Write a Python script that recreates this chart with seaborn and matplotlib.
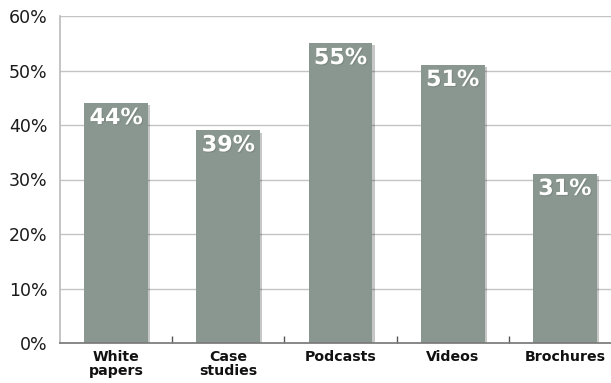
import matplotlib
matplotlib.use("Agg")
import matplotlib.pyplot as plt
import matplotlib.patheffects as pe
import seaborn as sns
import pandas as pd

categories = ["White\npapers", "Case\nstudies", "Podcasts", "Videos", "Brochures"]
values = [44, 39, 55, 51, 31]
y_ticks = [0, 10, 20, 30, 40, 50, 60]
y_tick_labels = ["0%", "10%", "20%", "30%", "40%", "50%", "60%"]

sns.set_theme(style="white")
plt.rcParams["font.family"] = ["DejaVu Sans"]

df = pd.DataFrame({"category": categories, "value": values})

fig = plt.figure(figsize=(6.11, 3.83), dpi=100)
ax = fig.add_axes([60 / 611, 40 / 383, 561 / 611, 327 / 383])

sns.barplot(data=df, x="category", y="value", color="#899790", saturation=1,
            width=0.57, linewidth=0, ax=ax, zorder=3)

for patch in ax.patches:
    patch.set_path_effects([
        pe.SimplePatchShadow(offset=(1.5, -1.5), shadow_rgbFace="#000000", alpha=0.22),
        pe.Normal(),
    ])

for i, v in enumerate(values):
    ax.annotate(f"{v}%", xy=(i, v), xytext=(0, -3.5), textcoords="offset points",
                ha="center", va="top", color="white", fontsize=16, fontweight="bold",
                zorder=5,
                path_effects=[pe.withSimplePatchShadow(offset=(0.8, -0.8), alpha=0.2)])

ax.set_xlim(-0.5, 4.5)
ax.set_ylim(0, 60)
ax.set_yticks(y_ticks)
ax.set_yticklabels(y_tick_labels, fontsize=12.5, color="#1a1a1a")
ax.yaxis.grid(True, color="#c4c4c4", linewidth=1, zorder=0)
ax.tick_params(axis="y", length=0, pad=9)

ax.set_xticks(range(len(categories)))
ax.set_xticklabels(categories, fontsize=10.2, fontweight="bold", color="#111111",
                   linespacing=1.0)
ax.tick_params(axis="x", length=0, pad=5)

# small separators between categories
ax.set_xticks([0.5, 1.5, 2.5, 3.5], minor=True)
ax.tick_params(axis="x", which="minor", direction="in", length=5, width=1,
               color="#555555", bottom=True)

ax.set_xlabel("")
ax.set_ylabel("")
for side in ["top", "right"]:
    ax.spines[side].set_visible(False)
ax.spines["left"].set_color("#bdbdbd")
ax.spines["bottom"].set_color("#7a7a7a")
ax.spines["bottom"].set_zorder(4)

fig.savefig("out.png", dpi=100)
